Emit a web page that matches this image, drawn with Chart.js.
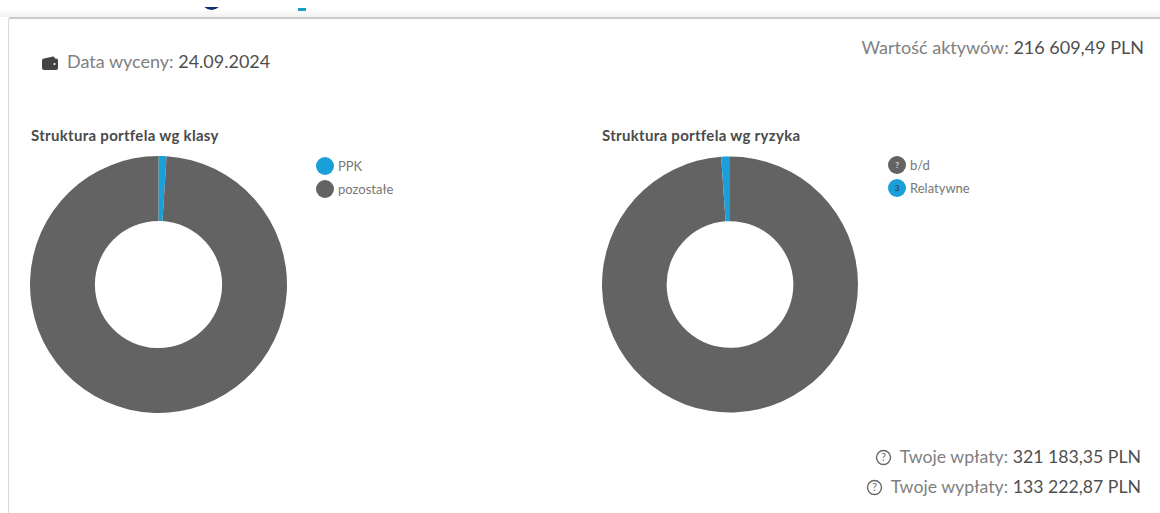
<!DOCTYPE html>
<html lang="pl">
<head>
<meta charset="utf-8">
<title>Struktura portfela</title>
<script src="https://cdn.jsdelivr.net/npm/chart.js@4"></script>
<style>
  html, body { margin: 0; height: 100%; background: #fff; overflow: hidden; }
  body { position: relative; width: 1160px; height: 513px; font-family: Lato, sans-serif; color: #808080; }
  .header-clip { position: absolute; left: 0; top: 7px; width: 100%; height: 4px; overflow: hidden; }
  .logo-arc { position: absolute; left: 200px; top: -24px; width: 23px; height: 27px; border-radius: 50%; background: #0b3170; }
  .logo-bar { position: absolute; left: 298px; top: 1px; width: 8px; height: 3px; background: #1a9fc8; }
  .band { position: absolute; left: 0; top: 11px; width: 100%; height: 6px; background: linear-gradient(#fbfbfb, #f1f1f1); }
  .card { position: absolute; left: 8px; top: 17px; width: 1170px; height: 520px; box-sizing: border-box;
          background: #fff; border: 1px solid #d8d8d8; border-top: 2px solid #c9c9c9; border-radius: 3px; }
  .info { position: absolute; white-space: nowrap; font-size: 18px; line-height: 20px; }
  .info.small { font-size: 17.7px; }
  .info b { font-weight: 400; color: #4f4f4f; }
  .info svg { vertical-align: -3px; margin-right: 8px; }
  .title { position: absolute; font-size: 15px; font-weight: 700; letter-spacing: 0.3px; color: #4a4a4a; white-space: nowrap; }
  .donut { position: absolute; top: 156px; height: 257px; }
  .legend { position: absolute; font-size: 13px; color: #767676; }
  .legend div { position: relative; height: 23px; line-height: 18px; padding-left: 22px; white-space: nowrap; }
  .legend i { position: absolute; left: 0; top: 0; width: 18px; height: 18px; border-radius: 50%;
              font: 700 8px/18px Lato, sans-serif; text-align: center; font-style: normal; }
</style>
</head>
<body>
<div class="header-clip"><div class="logo-arc"></div><div class="logo-bar"></div></div>
<div class="band"></div>
<div class="card"></div>

<div class="info" style="left:41px;top:51px">
  <svg width="18" height="15" viewBox="0 0 18 15"><path d="M3 2.5 L12 0.5 Q13.5 0.3 14 2.5 H15 Q17 2.5 17 4.5 V12 Q17 14 15 14 H3 Q1 14 1 12 V4.5 Q1 2.5 3 2.5Z" fill="#444"/><circle cx="13.5" cy="8" r="1.1" fill="#fff"/></svg>Data wyceny: <b>24.09.2024</b>
</div>
<div class="info" style="right:16px;top:37px">Wartość aktywów: <b>216 609,49 PLN</b></div>
<div class="info small" style="right:19px;top:447px" id="wplaty"></div>
<div class="info small" style="right:19px;top:477px" id="wyplaty"></div>

<div class="title" style="left:31px;top:126px">Struktura portfela wg klasy</div>
<div class="title" style="left:602px;top:126px">Struktura portfela wg ryzyka</div>

<div class="donut" style="left:30px;width:257px"><canvas id="classChart"></canvas></div>
<div class="donut" style="left:602px;width:256px"><canvas id="riskChart"></canvas></div>

<div class="legend" id="classLegend" style="left:316px;top:157px"></div>
<div class="legend" id="riskLegend" style="left:888px;top:156px"></div>

<script>
// udział w portfelu, w procentach
const classLabels = ['PPK', 'pozostałe'];
const classValues = [1.0, 99.0];
const riskLabels = ['b/d', 'Relatywne'];
const riskValues = [98.9, 1.1];
const riskBadges = ['?', '3'];
const riskBadgeColors = ['#dddddd', '#2b4a5c'];

const BLUE = '#1a9fd8';
const GREY = '#636363';

const helpIcon = '<svg width="17" height="17" viewBox="0 0 17 17"><circle cx="8.5" cy="8.5" r="7" fill="none" stroke="#666" stroke-width="1.4"/><text x="8.5" y="12.2" font-size="10.5" text-anchor="middle" fill="#666" font-family="Lato">?</text></svg>';
document.getElementById('wplaty').innerHTML = helpIcon + 'Twoje wpłaty: <b>321 183,35 PLN</b>';
document.getElementById('wyplaty').innerHTML = helpIcon + 'Twoje wypłaty: <b>133 222,87 PLN</b>';

function drawDonut(id, labels, values, colors) {
  return new Chart(document.getElementById(id), {
    type: 'doughnut',
    data: {
      labels: labels,
      datasets: [{ data: values, backgroundColor: colors, borderWidth: 0 }]
    },
    options: {
      responsive: true,
      maintainAspectRatio: false,
      cutout: '49.5%',
      animation: false,
      layout: { padding: 0 },
      plugins: { legend: { display: false }, tooltip: { enabled: false } }
    }
  });
}

function fillLegend(id, chart, badges, badgeColors) {
  const box = document.getElementById(id);
  chart.data.labels.forEach((label, i) => {
    const row = document.createElement('div');
    const dot = document.createElement('i');
    dot.style.background = chart.data.datasets[0].backgroundColor[i];
    if (badges) {
      dot.textContent = badges[i];
      dot.style.color = badgeColors[i];
    }
    row.appendChild(dot);
    row.appendChild(document.createTextNode(label));
    box.appendChild(row);
  });
}

const classChart = drawDonut('classChart', classLabels, classValues, [BLUE, GREY]);
const riskChart = drawDonut('riskChart', riskLabels, riskValues, [GREY, BLUE]);
fillLegend('classLegend', classChart);
fillLegend('riskLegend', riskChart, riskBadges, riskBadgeColors);
</script>
</body>
</html>
